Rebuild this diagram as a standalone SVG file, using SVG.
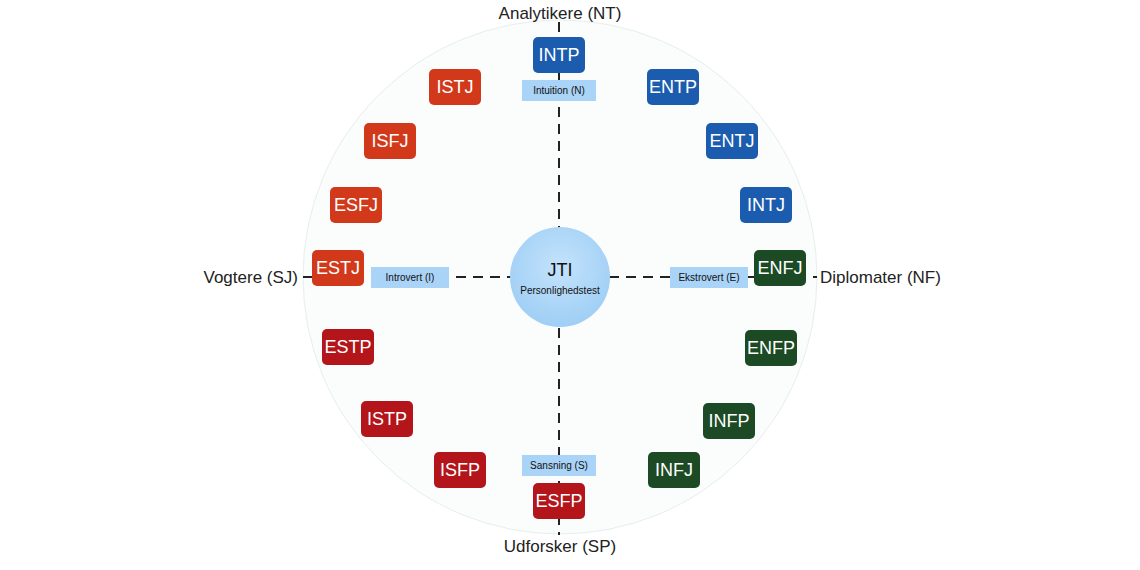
<svg xmlns="http://www.w3.org/2000/svg" width="1140" height="570" viewBox="0 0 1140 570">
<style>
.bg{fill:#fff}
.ring{fill:#fbfcfc;stroke:#e6eeee;stroke-width:1}
.axis{stroke:#222;stroke-width:2;stroke-dasharray:10 7;fill:none}
.n rect{rx:5;ry:5}
.nt rect{fill:#1b5cae}
.sj rect{fill:#d2391b}
.sp rect{fill:#b3151a}
.nf rect{fill:#1c4a24}
.n text{font-family:"Liberation Sans",Arial,sans-serif;font-size:18px;fill:#fff;text-anchor:middle;dominant-baseline:central}
.lab rect{fill:#a9d3f7}
.lab text{font-family:"Liberation Sans",Arial,sans-serif;font-size:10px;fill:#111;text-anchor:middle;dominant-baseline:central}
.grp{font-family:"Liberation Sans",Arial,sans-serif;font-size:17px;fill:#222;dominant-baseline:central}
</style>
<defs>
<radialGradient id="cg" cx="50%" cy="40%" r="60%">
<stop offset="0%" stop-color="#c4e3fb"/>
<stop offset="100%" stop-color="#9fcef5"/>
</radialGradient>
</defs>
<rect class="bg" width="1140" height="570"/>
<circle class="ring" cx="560" cy="277" r="257"/>
<g id="connectors">
<line class="axis" x1="559" y1="22" x2="559" y2="535"/>
<line class="axis" x1="303" y1="277" x2="817" y2="277"/>
</g>
<g id="center">
<circle cx="560" cy="277" r="50" fill="url(#cg)"/>
<text x="560" y="270" font-family="Liberation Sans,Arial,sans-serif" font-size="18" fill="#111" text-anchor="middle" dominant-baseline="central">JTI</text>
<text x="560" y="290" font-family="Liberation Sans,Arial,sans-serif" font-size="10" fill="#111" text-anchor="middle" dominant-baseline="central">Personlighedstest</text>
</g>
<g id="label-N" class="lab"><rect x="522" y="80" width="74" height="21"/><text x="559" y="90.5">Intuition (N)</text></g>
<g id="label-S" class="lab"><rect x="522" y="455" width="74" height="21"/><text x="559" y="465.5">Sansning (S)</text></g>
<g id="label-I" class="lab"><rect x="371" y="267" width="78" height="21"/><text x="410" y="277.5">Introvert (I)</text></g>
<g id="label-E" class="lab"><rect x="670" y="267" width="78" height="21"/><text x="709" y="277.5">Ekstrovert (E)</text></g>
<g id="INTP" class="n nt"><rect x="533" y="37" width="52" height="36"/><text x="559" y="55">INTP</text></g>
<g id="ENTP" class="n nt"><rect x="647" y="69" width="52" height="36"/><text x="673" y="87">ENTP</text></g>
<g id="ENTJ" class="n nt"><rect x="706" y="123" width="52" height="36"/><text x="732" y="141">ENTJ</text></g>
<g id="INTJ" class="n nt"><rect x="740" y="187" width="52" height="36"/><text x="766" y="205">INTJ</text></g>
<g id="ENFJ" class="n nf"><rect x="754" y="250" width="52" height="36"/><text x="780" y="268">ENFJ</text></g>
<g id="ENFP" class="n nf"><rect x="745" y="330" width="52" height="36"/><text x="771" y="348">ENFP</text></g>
<g id="INFP" class="n nf"><rect x="703" y="403" width="52" height="36"/><text x="729" y="421">INFP</text></g>
<g id="INFJ" class="n nf"><rect x="648" y="452" width="52" height="36"/><text x="674" y="470">INFJ</text></g>
<g id="ESFP" class="n sp"><rect x="533" y="483" width="52" height="36"/><text x="559" y="501">ESFP</text></g>
<g id="ISFP" class="n sp"><rect x="434" y="452" width="52" height="36"/><text x="460" y="470">ISFP</text></g>
<g id="ISTP" class="n sp"><rect x="361" y="401" width="52" height="36"/><text x="387" y="419">ISTP</text></g>
<g id="ESTP" class="n sp"><rect x="322" y="329" width="52" height="36"/><text x="348" y="347">ESTP</text></g>
<g id="ESTJ" class="n sj"><rect x="312" y="250" width="52" height="36"/><text x="338" y="268">ESTJ</text></g>
<g id="ESFJ" class="n sj"><rect x="330" y="187" width="52" height="36"/><text x="356" y="205">ESFJ</text></g>
<g id="ISFJ" class="n sj"><rect x="364" y="123" width="52" height="36"/><text x="390" y="141">ISFJ</text></g>
<g id="ISTJ" class="n sj"><rect x="429" y="69" width="52" height="36"/><text x="455" y="87">ISTJ</text></g>
<g id="groups">
<text class="grp" x="560" y="13" text-anchor="middle">Analytikere (NT)</text>
<text class="grp" x="298" y="277" text-anchor="end">Vogtere (SJ)</text>
<text class="grp" x="820" y="277" text-anchor="start">Diplomater (NF)</text>
<text class="grp" x="560" y="546" text-anchor="middle">Udforsker (SP)</text>
</g>
</svg>
